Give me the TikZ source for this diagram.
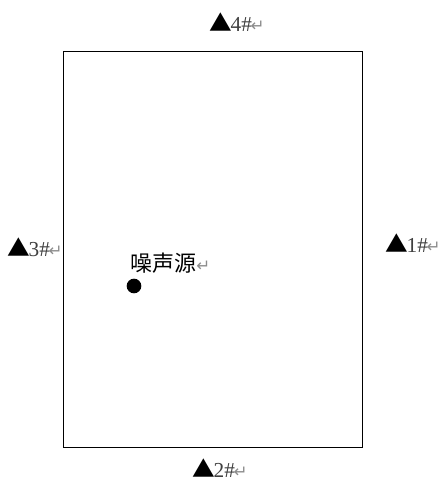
\documentclass[tikz,border=0pt]{standalone}
\usepackage{fontspec}
\setmainfont{Liberation Serif}
\newfontfamily\cjk{Noto Sans CJK SC}
\newfontfamily\dv{DejaVu Sans}
\newcommand{\tri}{{\cjk\fontsize{17}{19}\selectfont\color{black}▲}}
\newcommand{\ret}{{\dv\fontsize{12.5}{14}\selectfont\color{black!45}↵}}
\begin{document}
\begin{tikzpicture}[x=0.75pt,y=-0.75pt,
  lab/.style={anchor=west,inner sep=0pt,font=\fontsize{16}{18}\selectfont,text=black!75},
  box/.style={draw=black,line width=1pt},
  src/.style={circle,fill=black,inner sep=0pt,minimum size=11pt}]
\useasboundingbox (0,0) rectangle (446,482);
\node[box,minimum width=299*0.75pt,minimum height=396*0.75pt,inner sep=0pt,anchor=north west] (field) at (63,51) {};
\node[lab] (p4) at (209,22) {\tri\kern-1pt4\#\kern-1pt\ret};
\node[lab] (p1) at (385,243) {\tri\kern-1pt1\#\kern-1pt\ret};
\node[lab] (p3) at (7,247) {\tri\kern-1pt3\#\kern-1pt\ret};
\node[lab] (p2) at (192,468) {\tri\kern-1pt2\#\kern-1pt\ret};
\node[anchor=west,inner sep=0pt,font=\cjk\fontsize{16.5}{19}\selectfont] (srclabel) at (130,263) {噪声源\ret};
\node[src] (source) at (134,286) {};
\end{tikzpicture}
\end{document}
